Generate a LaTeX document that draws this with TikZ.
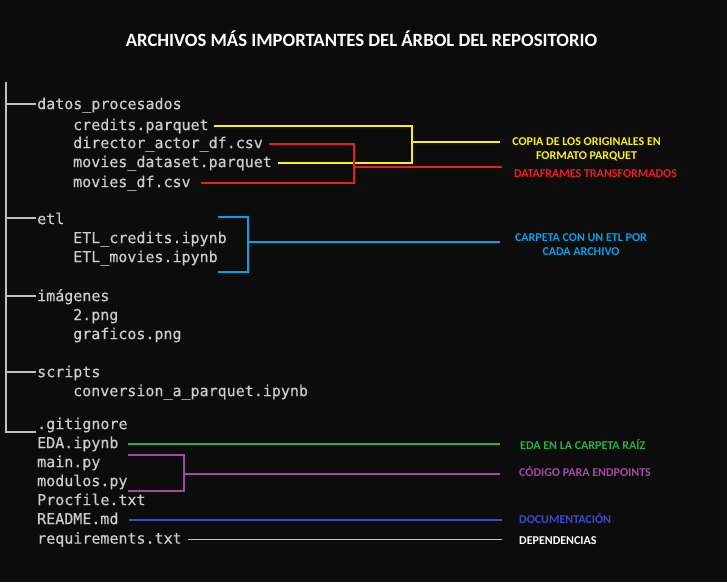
\documentclass[tikz,border=0pt]{standalone}
\usepackage{fontspec}
\setmainfont{Carlito}
\newfontfamily\monofont[FakeBold=0.4]{DejaVu Sans Mono}
\definecolor{bg}{HTML}{0C0C0C}
\definecolor{filegray}{HTML}{CCCCCC}
\definecolor{treegray}{HTML}{C0C0C0}
\definecolor{cyel}{HTML}{FFF200}
\definecolor{cred}{HTML}{ED1C24}
\definecolor{cblue}{HTML}{00A2E8}
\definecolor{cgreen}{HTML}{22B14C}
\definecolor{cmag}{HTML}{A349A4}
\definecolor{cind}{HTML}{3F48CC}
\definecolor{clav}{HTML}{C8BFE7}
\begin{document}
\begin{tikzpicture}[x=1pt,y=-1pt,
  file/.style={anchor=west,inner sep=0pt,text height=8.2pt,text depth=0pt,font=\monofont\fontsize{15}{15}\selectfont,text=filegray},
  lbl/.style={font=\bfseries\fontsize{12}{14}\selectfont,align=center,inner sep=0pt,text height=7.7pt,text depth=0pt},
  tree/.style={draw=treegray,line width=1.6pt},
  conn/.style={line width=1.3pt}]
\fill[bg] (0,0) rectangle (727,582);
\useasboundingbox (0,0) rectangle (727,582);

\node[font=\bfseries\fontsize{18.7}{20}\selectfont,text=white] (title) at (361.5,39) {ARCHIVOS MÁS IMPORTANTES DEL ÁRBOL DEL REPOSITORIO};

% files
\node[file] (datos) at (37,105) {datos\_procesados};
\node[file] (credits) at (73,126) {credits.parquet};
\node[file] (director) at (73,144) {director\_actor\_df.csv};
\node[file] (mdset) at (73,163) {movies\_dataset.parquet};
\node[file] (mdf) at (73,183) {movies\_df.csv};
\node[file] (etl) at (37,220) {etl};
\node[file] (etlc) at (73,239) {ETL\_credits.ipynb};
\node[file] (etlm) at (73,258) {ETL\_movies.ipynb};
\node[file] (img) at (37,297) {imágenes};
\node[file] (png2) at (73,316) {2.png};
\node[file] (graf) at (73,335) {graficos.png};
\node[file] (scripts) at (37,373) {scripts};
\node[file] (conv) at (73,392) {conversion\_a\_parquet.ipynb};
\node[file] (git) at (37,425) {.gitignore};
\node[file] (eda) at (37,444) {EDA.ipynb};
\node[file] (main) at (37,463) {main.py};
\node[file] (modulos) at (37,482) {modulos.py};
\node[file] (proc) at (37,501) {Procfile.txt};
\node[file] (readme) at (37,520) {README.md};
\node[file] (req) at (37,539.5) {requirements.txt};

% tree
\coordinate (treetop) at (6,82);
\draw[tree] (treetop) |- ([xshift=-1pt,yshift=-7pt]git.west);
\draw[tree] ([yshift=1pt]datos.west -| treetop) -- ([xshift=-1pt,yshift=1pt]datos.west);
\draw[tree] ([yshift=2pt]etl.west -| treetop) -- ([xshift=-1pt,yshift=2pt]etl.west);
\draw[tree] ([yshift=1pt]img.west -| treetop) -- ([xshift=-1pt,yshift=1pt]img.west);
\draw[tree] ([yshift=1pt]scripts.west -| treetop) -- ([xshift=-1pt,yshift=1pt]scripts.west);

% labels
\node[lbl,text=cyel] (lcopia) at (586.5,156) {COPIA DE LOS ORIGINALES EN\\FORMATO PARQUET};
\node[lbl,text=cred] (ldf) at (595.5,173.5) {DATAFRAMES TRANSFORMADOS};
\node[lbl,text=cblue] (letl) at (581,252) {CARPETA CON UN ETL POR\\CADA ARCHIVO};
\node[lbl,text=cgreen,anchor=west] (leda) at (520,445.5) {EDA EN LA CARPETA RAÍZ};
\node[lbl,text=cmag,anchor=west] (lcod) at (519,472.5) {CÓDIGO PARA ENDPOINTS};
\node[lbl,text=cind,anchor=west] (ldoc) at (519,519.5) {DOCUMENTACIÓN};
\node[lbl,text=white,anchor=west] (ldep) at (519,541) {DEPENDENCIAS};

% connector ends
\coordinate (ybr) at (412,142);
\coordinate (yend) at (500,142);
\coordinate (rbr) at (354,167);
\coordinate (rend) at (502,167);
\coordinate (bbr) at (248,242);
\coordinate (bend) at (500,242);
\coordinate (mbr) at (184,474);
\coordinate (mend) at (500,474);
\coordinate (gend) at (500,444);
\coordinate (iend) at (502,520);
\coordinate (lend) at (502,539.5);
\coordinate (btop) at ([yshift=22pt]etlc.east -| etlm.east);
\coordinate (bbot) at ([yshift=-14pt]etlm.east);
\coordinate (mtop) at ([yshift=8pt]main.east -| modulos.east);
\coordinate (mbot) at ([yshift=-9pt]modulos.east);

% yellow
\draw[conn,cyel] ([xshift=5pt]credits.east) -| (ybr |- mdset.east) -- ([xshift=6pt]mdset.east);
\draw[conn,cyel] (ybr) -- (yend);
% red
\draw[conn,cred] ([xshift=6pt]director.east) -| (rbr |- mdf.east) -- ([xshift=10pt]mdf.east);
\draw[conn,cred] (rbr) -- (rend);
% blue
\draw[conn,cblue] (btop) -| (bbr |- bbot) -- (bbot);
\draw[conn,cblue] (bbr) -- (bend);
% magenta
\draw[conn,cmag] (mtop) -| (mbr |- mbot) -- (mbot);
\draw[conn,cmag] (mbr) -- (mend);
% green, indigo, lavender
\draw[conn,cgreen] ([xshift=9pt]eda.east) -- (gend);
\draw[conn,cind] ([xshift=10pt]readme.east) -- (iend);
\draw[conn,clav] ([xshift=6pt]req.east) -- (lend);
\end{tikzpicture}
\end{document}
